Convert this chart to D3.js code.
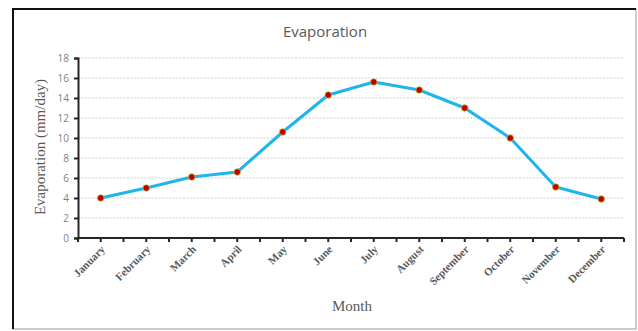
<!DOCTYPE html>
<html>
<head>
<meta charset="utf-8">
<script src="https://cdn.jsdelivr.net/npm/d3@7"></script>
<style>
  body { margin: 0; background: #fff; }
</style>
</head>
<body>
<svg id="chart"></svg>
<script>
// Chart data
const months = ["January", "February", "March", "April", "May", "June",
    "July", "August", "September", "October", "November", "December"]
const evaporation = [4.0, 5.0, 6.1, 6.6, 10.6, 14.3, 15.6, 14.8, 13.0, 10.0, 5.1, 3.9]
const y_ticks = [0, 2, 4, 6, 8, 10, 12, 14, 16, 18]

const width = 638
const height = 331
const margin = { left: 78, right: 14, top: 58, bottom: 93 }

const svg = d3.select("#chart")
    .attr("width", width)
    .attr("height", height)

// Frame
svg.append("rect")
    .attr("x", 13).attr("y", 9)
    .attr("width", 623).attr("height", 320)
    .attr("fill", "white")
    .attr("stroke", "#9a9a9a")
    .attr("stroke-width", 1)
svg.append("path")
    .attr("d", "M13,329 V9 H636")
    .attr("fill", "none")
    .attr("stroke", "#111")
    .attr("stroke-width", 2)

// Scales
const x = d3.scaleBand()
    .domain(months)
    .range([margin.left, width - margin.right])

const y = d3.scaleLinear()
    .domain([0, 18])
    .range([height - margin.bottom, margin.top])

// Gridlines
svg.append("g")
    .selectAll("line")
    .data(y_ticks.filter(d => d > 0))
    .enter()
    .append("line")
    .attr("x1", margin.left)
    .attr("x2", width - margin.right - 1)
    .attr("y1", d => y(d))
    .attr("y2", d => y(d))
    .attr("stroke", "#cfcfcf")
    .attr("stroke-width", 1)
    .attr("stroke-dasharray", "2,1.5")

// Y axis
const y_axis = svg.append("g")
    .attr("transform", `translate(${margin.left},0)`)
    .call(d3.axisLeft(y).tickValues(y_ticks).tickSize(4).tickPadding(5))
y_axis.select(".domain").attr("stroke", "#262626").attr("stroke-width", 2)
y_axis.selectAll(".tick line").attr("stroke", "#262626").attr("stroke-width", 2)
y_axis.selectAll("text")
    .attr("fill", "#7f7f7f")
    .attr("font-family", "Open Sans, sans-serif")
    .attr("font-size", "10px")

// X axis, ticks at band centres and edges
const half_ticks = []
months.forEach(function(m) {
    half_ticks.push(x(m))
    half_ticks.push(x(m) + x.bandwidth() / 2)
})
half_ticks.push(width - margin.right)

const x_axis = svg.append("g")
    .attr("transform", `translate(0,${height - margin.bottom})`)
x_axis.append("line")
    .attr("x1", margin.left - 1)
    .attr("x2", width - margin.right)
    .attr("stroke", "#262626")
    .attr("stroke-width", 2)
x_axis.selectAll(".xtick")
    .data(half_ticks)
    .enter()
    .append("line")
    .attr("x1", d => d).attr("x2", d => d)
    .attr("y1", 0).attr("y2", 4)
    .attr("stroke", "#262626")
    .attr("stroke-width", 2)
x_axis.selectAll(".xlabel")
    .data(months)
    .enter()
    .append("text")
    .attr("transform", d => `translate(${x(d) + x.bandwidth() / 2 + 5},${12}) rotate(-45)`)
    .attr("text-anchor", "end")
    .attr("fill", "#595959")
    .attr("font-family", "Liberation Serif, Times New Roman, serif")
    .attr("font-weight", "bold")
    .attr("font-size", "11px")
    .text(d => d)

// Line
const line = d3.line()
    .x((d, i) => x(months[i]) + x.bandwidth() / 2)
    .y(d => y(d))

svg.append("path")
    .datum(evaporation)
    .attr("d", line)
    .attr("fill", "none")
    .attr("stroke", "#1fb4ec")
    .attr("stroke-width", 3)
    .attr("stroke-linejoin", "round")

// Markers
svg.selectAll(".marker")
    .data(evaporation)
    .enter()
    .append("circle")
    .attr("cx", (d, i) => x(months[i]) + x.bandwidth() / 2)
    .attr("cy", d => y(d))
    .attr("r", 3.3)
    .attr("fill", "#c00000")
    .attr("stroke", "#b5c934")
    .attr("stroke-width", 0.8)

// Titles
svg.append("text")
    .attr("x", 325).attr("y", 37)
    .attr("text-anchor", "middle")
    .attr("fill", "#595959")
    .attr("font-family", "Open Sans, sans-serif")
    .attr("font-size", "15px")
    .text("Evaporation")

svg.append("text")
    .attr("transform", `translate(45,147) rotate(-90)`)
    .attr("text-anchor", "middle")
    .attr("fill", "#595959")
    .attr("font-family", "Liberation Serif, Times New Roman, serif")
    .attr("font-size", "15px")
    .text("Evaporation (mm/day)")

svg.append("text")
    .attr("x", 352).attr("y", 311)
    .attr("text-anchor", "middle")
    .attr("fill", "#595959")
    .attr("font-family", "Liberation Serif, Times New Roman, serif")
    .attr("font-size", "15px")
    .text("Month")
</script>
</body>
</html>
